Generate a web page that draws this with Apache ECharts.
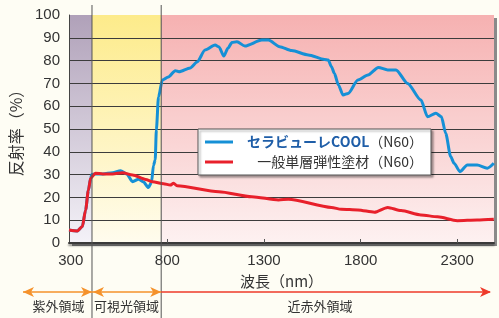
<!DOCTYPE html>
<html><head><meta charset="utf-8">
<script src="https://cdn.jsdelivr.net/npm/echarts@6/dist/echarts.min.js"></script>
<style>html,body{margin:0;padding:0;background:#FEFDF4;}#c{width:499px;height:318px;}</style>
</head><body><div id="c"></div>
<script>
const xMin = 291, xMax = 2490;
const xTickLabels = [300, 800, 1300, 1800, 2300];
const yTickLabels = [0, 10, 20, 30, 40, 50, 60, 70, 80, 90, 100];
const regionBounds = [291, 410, 768, 2490];
const regionNames = ['紫外領域', '可視光領域', '近赤外領域'];
const seriesNames = ['セラビューレCOOL', '一般単層弾性塗材'];
const sampleCode = '（N60）';

const coolWl = [291,334,360,377,391,403,409,428,466,517,558,589,620,651,677,702,718,728,737,743,754,774,805,841,860,918,954,995,1047,1067,1092,1114,1134,1160,1201,1289,1323,1381,1443,1529,1613,1632,1649,1664,1685,1709,1735,1786,1838,1892,1940,1983,2043,2112,2146,2189,2218,2240,2266,2283,2314,2352,2403,2455,2489];
const coolVal = [5.7,5.3,7.2,14.5,23,28.4,30,30.3,30.3,30.8,31.7,30.3,26.9,28,26.7,24.3,26.7,34,36.4,49.6,64,71.5,72.8,75.6,75.1,76.8,79.4,84.6,86.8,86,82,85.5,87.9,88.3,86.4,89,89,86.1,84.4,82.5,80.5,80.3,77.3,74.4,69.3,64.9,65.6,71.5,73.7,77,75.9,75.9,70,62.7,55.4,56.9,55.4,48.1,37.9,35,31.3,34.2,34.2,32.8,35];

const stdWl = [291,334,360,377,391,403,428,466,517,568,620,688,723,780,815,832,850,1066,1237,1375,1426,1649,1700,1786,1871,1940,2009,2112,2198,2300,2403,2489];
const stdVal = [5.7,5.3,7.2,14.5,23,28.4,30.6,30.3,30.3,30.8,29.8,27.9,26.9,26,25.4,26.2,25.1,22.5,20.3,18.9,19.2,15.6,14.8,14.5,13.5,15.6,14.2,12.3,11.5,9.8,10.1,10.4];

const zip = (a, b) => a.map((v, i) => [v, b[i]]);
const font = '"Liberation Sans", "Noto Sans CJK JP", sans-serif';
const jfont = '"Noto Sans CJK JP", sans-serif';

function grad(top, bottom) {
  return {type:'linear', x:0, y:0, x2:0, y2:1, colorStops:[{offset:0,color:top},{offset:1,color:bottom}]};
}
const regionColors = [grad('#B0A1B9','#F4F2F8'), grad('#FDEB8A','#FFFCEE'), grad('#F6B1B1','#FDF1F1')];

const chart = echarts.init(document.getElementById('c'), null, {renderer:'canvas'});
const grid = {left:66, top:15, right:5, bottom:75};
chart.setOption({
  animation:false,
  backgroundColor:'#FEFDF4',
  grid: grid,
  xAxis: {
    type:'value', min:xMin, max:xMax, z:3,
    name:'波長（nm）', nameLocation:'middle', nameGap:31,
    nameTextStyle:{fontFamily:jfont, fontSize:15, color:'#333'},
    axisLine:{show:true, lineStyle:{color:'#3a3a3a', width:2, shadowColor:'rgba(0,0,0,0.45)', shadowOffsetY:2, shadowBlur:2}},
    axisTick:{show:true, inside:true, length:4, customValues:xTickLabels.slice(1), lineStyle:{color:'#555'}},
    axisLabel:{customValues:xTickLabels, formatter:v => String(v), fontFamily:font, fontSize:15, color:'#333', margin:10},
    splitLine:{show:false}
  },
  yAxis: {
    type:'value', min:0, max:100, interval:10, z:3,
    name:'反射率（%）', nameLocation:'middle', nameGap:45, nameRotate:90,
    nameTextStyle:{fontFamily:jfont, fontSize:16, color:'#333'},
    axisLine:{show:true, lineStyle:{color:'#444', width:1}},
    axisTick:{show:false},
    axisLabel:{formatter:v => String(v), fontFamily:font, fontSize:15, color:'#333', margin:9},
    splitLine:{show:true, showMinLine:false, showMaxLine:false, lineStyle:{color:'#3c3c3c', width:1}}
  },
  series: [
    {
      type:'line', name:'bg', data:[], silent:true, z:0,
      markArea:{silent:true, z:0, data:[0,1,2].map(i => [
        {xAxis:regionBounds[i], yAxis:0, itemStyle:{color:regionColors[i]}},
        {xAxis:regionBounds[i+1], yAxis:100}
      ])}
    },
    {
      type:'line', name:seriesNames[0], data:zip(coolWl, coolVal), smooth:0.25, smoothMonotone:'x',
      showSymbol:false, z:5, lineStyle:{color:'#1590D6', width:3}
    },
    {
      type:'line', name:seriesNames[1], data:zip(stdWl, stdVal), smooth:0.25, smoothMonotone:'x',
      showSymbol:false, z:6, lineStyle:{color:'#E8202B', width:3}
    }
  ]
});

const px = v => chart.convertToPixel({xAxisIndex:0}, v);
const py = v => chart.convertToPixel({yAxisIndex:0}, v);
const x0 = px(regionBounds[0]), x1 = px(regionBounds[1]), x2 = px(regionBounds[2]), x3 = px(regionBounds[3]);
const yTop = py(100), yBot = py(0);
const arrowY = 292;
const orange = '#F5922B', red = '#EE3A2A';
function head(x, y, dir, color) {
  return {type:'polygon', shape:{points:[[x,y],[x-dir*11,y-5],[x-dir*8,y],[x-dir*11,y+5]]}, style:{fill:color}, z:20};
}
const g = [
  {type:'rect', shape:{x:x0+3, y:yTop+3, width:x3-x0, height:yBot-yTop}, style:{fill:'#8a8a8a'}, z:-20, silent:true},
  {type:'line', shape:{x1:x1, y1:5, x2:x1, y2:318}, style:{stroke:'#555', lineWidth:1}, z:15},
  {type:'line', shape:{x1:x2, y1:5, x2:x2, y2:318}, style:{stroke:'#555', lineWidth:1}, z:15},
  {type:'line', shape:{x1:23, y1:arrowY, x2:x1, y2:arrowY}, style:{stroke:orange, lineWidth:1.5}, z:20},
  head(23, arrowY, -1, orange), head(x1, arrowY, 1, orange),
  {type:'line', shape:{x1:x1, y1:arrowY, x2:x2, y2:arrowY}, style:{stroke:orange, lineWidth:1.5}, z:20},
  head(x1+1, arrowY, -1, orange), head(x2, arrowY, 1, orange),
  {type:'line', shape:{x1:x2, y1:arrowY, x2:490, y2:arrowY}, style:{stroke:red, lineWidth:1.5}, z:20},
  head(491, arrowY, 1, red),
  {type:'text', style:{text:regionNames[0], x:(23+x1)/2 + 1, y:306, align:'center', verticalAlign:'middle', font:'13px '+jfont, fill:'#333'}, z:20},
  {type:'text', style:{text:regionNames[1], x:(x1+x2)/2, y:306, align:'center', verticalAlign:'middle', font:'13px '+jfont, fill:'#333'}, z:20},
  {type:'text', style:{text:regionNames[2], x:320, y:306, align:'center', verticalAlign:'middle', font:'13px '+jfont, fill:'#333'}, z:20},
  {type:'rect', shape:{x:198, y:129, width:233, height:46}, style:{fill:'#fff', stroke:'#555', lineWidth:1, shadowColor:'rgba(0,0,0,0.35)', shadowOffsetX:2, shadowOffsetY:2, shadowBlur:2}, z:30},
  {type:'line', shape:{x1:205, y1:142, x2:233, y2:142}, style:{stroke:'#1590D6', lineWidth:3}, z:31},
  {type:'line', shape:{x1:205, y1:162, x2:233, y2:162}, style:{stroke:'#E8202B', lineWidth:3}, z:31},
  {type:'text', style:{text:'{a|'+seriesNames[0]+'}{b|'+sampleCode+'}', x:423, y:142, align:'right', verticalAlign:'middle',
    rich:{a:{fontFamily:jfont, fontSize:14, fill:'#1F5EA8', fontWeight:'bold'}, b:{fontFamily:jfont, fontSize:14, fill:'#333'}}}, z:31},
  {type:'text', style:{text:seriesNames[1]+sampleCode, x:423, y:162, align:'right', verticalAlign:'middle', font:'14px '+jfont, fill:'#333'}, z:31}
];
chart.setOption({graphic:g});
</script></body></html>
